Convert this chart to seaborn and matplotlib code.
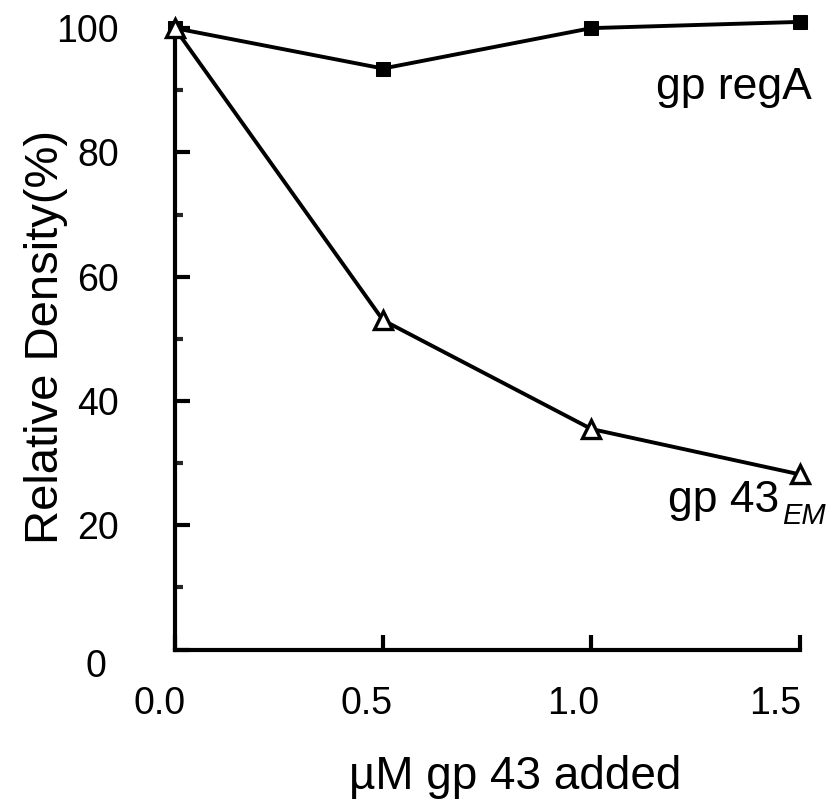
import pandas as pd
import matplotlib
matplotlib.use('Agg')
import matplotlib.pyplot as plt
import matplotlib.transforms as mtransforms
from matplotlib.ticker import MultipleLocator
import seaborn as sns

# values
conc = [0.0, 0.5, 1.0, 1.5]
rega_density = [100.0, 93.5, 100.0, 101.0]
gp43_density = [100.0, 53.0, 35.5, 28.2]
x_ticks = [0.0, 0.5, 1.0, 1.5]
x_tick_labels = ['0.0', '0.5', '1.0', '1.5']
y_ticks = [0, 20, 40, 60, 80, 100]

sns.set_theme(style='ticks')
plt.rcParams['font.family'] = ['Liberation Sans', 'DejaVu Sans']

df_rega = pd.DataFrame({'conc': conc, 'density': rega_density})
df_gp43 = pd.DataFrame({'conc': conc, 'density': gp43_density})

fig = plt.figure(figsize=(8.4, 8.07), dpi=100)
ax = fig.add_axes([0.208, 0.195, 0.744, 0.774])

sns.lineplot(data=df_rega, x='conc', y='density', ax=ax, color='black',
             linewidth=2.8, marker='s', markersize=10, markerfacecolor='black',
             markeredgecolor='black', clip_on=False, zorder=3)
sns.lineplot(data=df_gp43, x='conc', y='density', ax=ax, color='black',
             linewidth=2.8, marker='^', markersize=13, markerfacecolor='white',
             markeredgecolor='black', markeredgewidth=2.4, clip_on=False, zorder=4)

ax.set_xlim(0, 1.5)
ax.set_ylim(0, 100.5)
ax.set_xticks(x_ticks)
ax.set_xticklabels(x_tick_labels)
ax.set_yticks(y_ticks)
ax.yaxis.set_minor_locator(MultipleLocator(10))

sns.despine(ax=ax)
for side in ['left', 'bottom']:
    ax.spines[side].set_linewidth(3)
    ax.spines[side].set_color('black')

ax.tick_params(axis='both', which='major', direction='in', length=11, width=3,
               labelsize=27, colors='black')
ax.tick_params(axis='y', which='major', pad=40)
ax.tick_params(axis='x', which='major', pad=26)
ax.tick_params(axis='y', which='minor', direction='in', length=6, width=3)

# in the original the x labels sit a bit left of their ticks, the 0 a bit low
x_shift_in = [-0.15, -0.16, -0.18, -0.24]
for lab, dx in zip(ax.get_xticklabels(), x_shift_in):
    lab.set_transform(lab.get_transform()
                      + mtransforms.ScaledTranslation(dx, 0, fig.dpi_scale_trans))
ax.get_yticklabels()[0].set_transform(
    ax.get_yticklabels()[0].get_transform()
    + mtransforms.ScaledTranslation(-0.13, -0.13, fig.dpi_scale_trans))

ax.set_xlabel('\u00b5M gp 43 added', fontsize=33, labelpad=24, color='black')
ax.xaxis.label.set_x(0.545)
ax.set_ylabel('Relative Density(%)', fontsize=34, labelpad=-8, color='black')

ax.text(1.53, 90.5, 'gp regA', fontsize=32, ha='right', va='center', color='black')
ax.text(1.452, 22.1, 'gp 43', fontsize=32, ha='right', va='baseline', color='black')
ax.text(1.459, 20.2, 'EM', fontsize=21, style='italic', ha='left', va='baseline',
        color='black', clip_on=False)

fig.savefig('out.png', dpi=100)
plt.close(fig)
